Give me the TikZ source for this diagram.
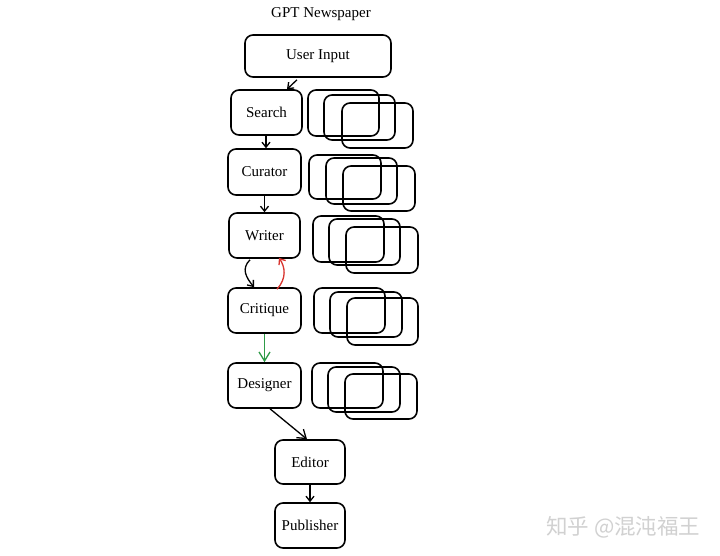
\documentclass[tikz,border=0pt]{standalone}
\usepackage{fontspec}
\setmainfont{Liberation Serif}
\newfontfamily\cjkfont{Noto Sans CJK SC}
\usetikzlibrary{arrows.meta,calc}
\definecolor{critred}{HTML}{D8352F}
\definecolor{okgreen}{HTML}{2E9B47}
\tikzset{
  agent/.style={draw=black, line width=1.6pt, rounded corners=8pt, inner sep=0pt,
    font=\fontsize{15}{18}\selectfont, fill=white},
  stackbox/.style={draw=black, line width=1.6pt, rounded corners=8pt},
  conn/.style={draw=black, line width=1.3pt, -{Straight Barb[length=5pt,width=8pt,line width=1.3pt]}},
  bigconn/.style={line width=1.3pt, -{Straight Barb[length=9pt,width=11pt,line width=1.3pt]}}
}
\begin{document}
\begin{tikzpicture}[x=1pt,y=-1pt]
\useasboundingbox[fill=white] (0,0) rectangle (720,556);

\node[font=\fontsize{15}{18}\selectfont] (title) at (321,14) {GPT Newspaper};

% stacks of parallel agents
\foreach \xa/\ya/\xb/\yb in {
  308/90/379/136, 324/95/395/140, 342/103/413/148,
  309/155/381/199, 326/158/397/204, 343/166/415/211,
  313/216/384/262, 329/219/400/265, 346/227/418/273,
  314/288/385/333, 330/292/402/337, 347/298/418/345,
  312/363/383/408, 328/367/400/412, 345/374/417/419}
  {\draw[stackbox] (\xa,\ya) rectangle (\xb,\yb);}

\node[agent, minimum width=146pt, minimum height=42pt] (ui) at (318,56) {User Input};
\node[agent, minimum width=71pt, minimum height=45pt] (search) at (266.5,112.5) {Search};
\node[agent, minimum width=73pt, minimum height=46pt] (curator) at (264.5,172) {Curator};
\node[agent, minimum width=71pt, minimum height=45pt] (writer) at (264.5,235.5) {Writer};
\node[agent, minimum width=73pt, minimum height=45pt] (critique) at (264.5,310.5) {Critique};
\node[agent, minimum width=73pt, minimum height=45pt] (designer) at (264.5,385.5) {Designer};
\node[agent, minimum width=70pt, minimum height=44pt] (editor) at (310,462) {Editor};
\node[agent, minimum width=70pt, minimum height=45pt] (publisher) at (310,525.5) {Publisher};

% connectors
\draw[conn] ([xshift=-21pt,yshift=-2pt]ui.south) -- ([xshift=20.5pt]search.north);
\draw[conn] (search.south -| 266,0) -- (curator.north -| 266,0);
\draw[conn] (curator.south) -- (writer.north);
\draw[conn] ([xshift=-14.5pt,yshift=-1pt]writer.south) .. controls +(-9,9) and +(-8,-10) .. ([xshift=-10.5pt]critique.north);
\draw[conn, draw=critred, -{Straight Barb[length=5pt,width=8pt,line width=1.3pt,color=critred]}] ([xshift=12.5pt,yshift=-2pt]critique.north) .. controls +(10,-11) and +(6,9) .. ([xshift=14.5pt,yshift=1pt]writer.south);
\draw[bigconn, draw=okgreen] (critique.south) -- (designer.north);
\draw[conn, -{Straight Barb[length=8pt,width=11pt,line width=1.3pt]}] ([xshift=5.5pt]designer.south) -- ([xshift=-3pt]editor.north);
\draw[conn] (editor.south) -- (publisher.north);

% watermark
\node[font=\cjkfont\fontsize{21.5}{22}\selectfont, text=black!18, anchor=west, inner sep=0pt] (wm) at (546,527) {知乎 @混沌福王};
\end{tikzpicture}
\end{document}
